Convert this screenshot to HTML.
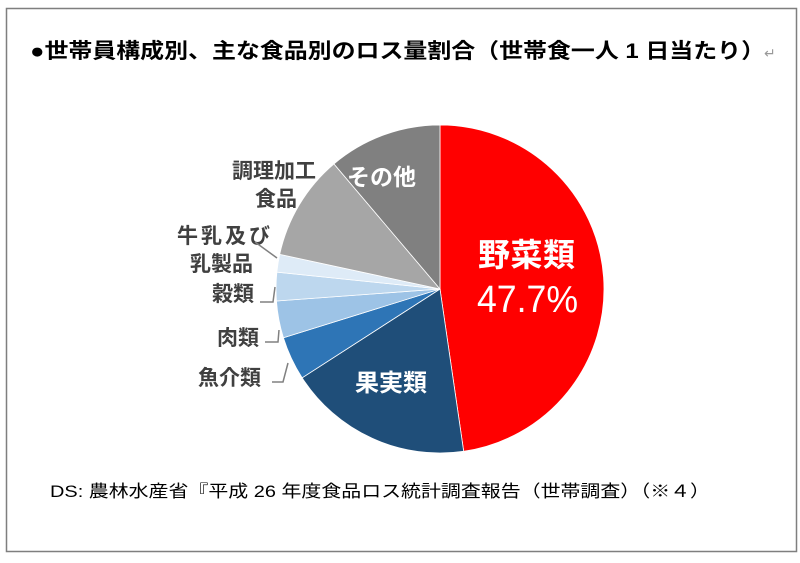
<!DOCTYPE html>
<html><head><meta charset="utf-8"><style>
body{margin:0;background:#fff;width:800px;height:558px;overflow:hidden}
</style></head><body>
<svg width="800" height="558" viewBox="0 0 800 558" xmlns="http://www.w3.org/2000/svg" font-family="Liberation Sans, Noto Sans CJK JP, sans-serif">
<rect x="6.5" y="8.5" width="790" height="543" fill="#fff" stroke="#7f7f7f" stroke-width="1.5"/>
<text x="30" y="58" font-size="21" font-weight="bold" textLength="735" lengthAdjust="spacingAndGlyphs" fill="#000">●世帯員構成別、主な食品別のロス量割合（世帯食一人 1 日当たり）</text>
<text x="764" y="58" font-size="14" fill="#999">↵</text>
<g stroke="#fff" stroke-width="0.8">
<path d="M440,289 L440,125 A164,164 0 0 1 463.68,451.28 Z" fill="#ff0000"/>
<path d="M440,289 L463.68,451.28 A164,164 0 0 1 302.14,377.84 Z" fill="#1f4e79"/>
<path d="M440,289 L302.14,377.84 A164,164 0 0 1 283.41,337.77 Z" fill="#2e75b6"/>
<path d="M440,289 L283.41,337.77 A164,164 0 0 1 276.44,301 Z" fill="#9dc3e6"/>
<path d="M440,289 L276.44,301 A164,164 0 0 1 276.87,272.14 Z" fill="#bdd7ee"/>
<path d="M440,289 L276.87,272.14 A164,164 0 0 1 279.71,254.35 Z" fill="#deebf7"/>
<path d="M440,289 L279.71,254.35 A164,164 0 0 1 333.92,163.92 Z" fill="#a6a6a6"/>
<path d="M440,289 L333.92,163.92 A164,164 0 0 1 440,125 Z" fill="#808080"/>
</g>
<g font-weight="bold" font-size="21" fill="#404040">
<text x="232" y="178">調理加工</text>
<text x="255" y="206">食品</text>
<text x="177" y="243" textLength="93">牛乳及び</text>
<text x="190" y="271">乳製品</text>
<text x="212" y="301">穀類</text>
<text x="217" y="345">肉類</text>
<text x="198" y="385">魚介類</text>
</g>
<g stroke="#808080" stroke-width="1.5" fill="none">
<polyline points="255,242 277,258"/>
<polyline points="260,302 273,302 275,287"/>
<polyline points="265,342 278,342 279,330"/>
<polyline points="272,382 283,382 288,363"/>
</g>
<g font-weight="bold" fill="#fff">
<text x="347" y="185" font-size="23">その他</text>
<text x="478" y="266" font-size="32" textLength="97">野菜類</text>
<text x="477" y="312" font-size="38" textLength="101" lengthAdjust="spacingAndGlyphs" font-weight="normal">47.7%</text>
<text x="355" y="391" font-size="24">果実類</text>
</g>
<text x="50" y="497" font-size="17" fill="#000" textLength="660" lengthAdjust="spacingAndGlyphs">DS:  農林水産省『平成 26 年度食品ロス統計調査報告（世帯調査）（※４）</text>
</svg>
</body></html>
